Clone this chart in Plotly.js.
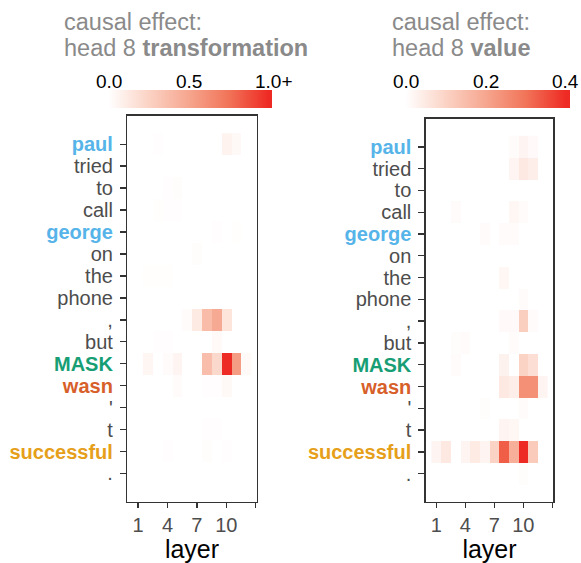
<!DOCTYPE html>
<html>
<head>
<meta charset="utf-8">
<script src="https://cdn.plot.ly/plotly-3.0.1.min.js"></script>
<style>html,body{margin:0;padding:0;background:#fff;}#chart{width:581px;height:563px;}</style>
</head>
<body>
<div id="chart"></div>
<script>
// ---------- data ----------
const tokens = ['paul','tried','to','call','george','on','the','phone',',','but','MASK','wasn',"'",'t','successful','.'];
const tokenColors = {paul:'#56B4E9', george:'#56B4E9', MASK:'#179E74', wasn:'#D7602A', successful:'#E69F1A'};
const layers = [1,2,3,4,5,6,7,8,9,10,11,12];
const layerTickVals = [1,4,7,10,13];
const layerTickText = ['1','4','7','10',''];

// causal effect: head 8 transformation (rows = tokens, cols = layers 1..12)
const transformation = [
  [0,0,0.01,0,0,0,0,0,0,0.07,0.04,0],
  [0,0,0,0,0,0,0,0,0,0,0,0],
  [0,0,0,0.01,0.015,0,0,0,0,0,0,0],
  [0,0,0.008,0.01,0.01,0,0,0,0,0,0,0],
  [0,0,0,0,0,0,0,0,0.01,0,0.008,0],
  [0,0,0,0,0,0,0.015,0,0,0,0,0],
  [0,0.008,0.008,0.008,0,0,0,0,0,0,0,0],
  [0,0,0,0,0,0,0,0,0,0,0,0],
  [0,0,0,0,0,0.02,0.12,0.38,0.48,0.15,0,0],
  [0,0,0.01,0.01,0,0,0,0,0.03,0,0,0],
  [0,0.05,0,0.02,0.06,0,0,0.37,0.22,1.1,0.55,0.03],
  [0,0,0,0,0.02,0,0,0.01,0.01,0.04,0,0],
  [0,0,0,0,0,0,0,0,0,0,0,0],
  [0,0,0,0,0,0,0,0.01,0.01,0,0,0],
  [0,0,0,0.01,0,0,0,0.015,0,0.01,0,0],
  [0,0,0,0,0,0,0,0,0,0,0,0]
];
// causal effect: head 8 value
const value = [
  [0,0,0,0,0,0,0,0,0.008,0.023,0.011,0],
  [0,0,0,0,0,0,0,0,0.023,0.05,0.038,0],
  [0,0,0,0,0,0,0,0,0,0,0,0],
  [0,0,0.008,0,0,0,0,0,0.019,0.008,0,0],
  [0,0,0,0,0,0.008,0,0.008,0.008,0,0,0],
  [0,0,0,0,0,0,0,0,0,0,0,0],
  [0,0,0,0,0,0,0,0.019,0,0,0,0],
  [0,0,0,0,0,0,0,0,0,0.008,0,0],
  [0,0,0,0,0,0,0,0.011,0.011,0.11,0.008,0],
  [0,0,0.006,0.009,0,0,0,0,0.008,0,0,0],
  [0,0,0.008,0,0,0,0,0.03,0,0.1,0.075,0],
  [0,0,0,0,0,0,0,0.05,0.038,0.245,0.245,0.023],
  [0,0,0,0,0,0.006,0,0,0,0.008,0,0],
  [0,0,0,0,0,0,0,0.023,0.019,0,0,0],
  [0.023,0.05,0,0.023,0.046,0.023,0.1,0.33,0.18,0.4,0.12,0],
  [0,0,0,0,0,0,0,0,0,0.006,0,0]
];
const cbLeftTicks = [0,0.5,1.0];
const cbLeftText = ['0.0','0.5','1.0+'];
const cbRightTicks = [0,0.2,0.4];
const cbRightText = ['0.0','0.2','0.4'];

// ---------- styling ----------
const W = 581, H = 563;
const px = v => v / W;
const py = v => 1 - v / H;
const FONT = 'Liberation Sans, Arial, Helvetica, sans-serif';

function scale(stops, zmin, zmax) {
  return stops.map(s => [(s[0] - zmin) / (zmax - zmin), s[1]]);
}
const L = {zmin: -0.065, zmax: 1.021, max: 1.0};
const R = {zmin: -0.027, zmax: 0.41, max: 0.4};
function ramp(z) {
  const m = z.max;
  return scale([[z.zmin,'#ffffff'],[0,'#ffffff'],[0.25*m,'#fbd3c5'],[0.5*m,'#f6a68f'],[0.75*m,'#f17458'],[m,'#ee2a24'],[z.zmax,'#ee2a24']], z.zmin, z.zmax);
}

const cbLeft = {x0: 98.3, len: 174.4};
const cbRight = {x0: 395, len: 175};
const cbTop = 90, cbBottom = 107.7;

const tickText = tokens.map(t => tokenColors[t] ? `<b><span style="color:${tokenColors[t]}">${t}</span></b>` : t);
const tokenIdx = tokens.map((t, i) => i + 1);

function cb(c) {
  return {orientation:'h', x: px(c.x0), xanchor:'left', y: py(cbBottom), yanchor:'bottom',
          len: c.len, lenmode:'pixels', thickness: cbBottom - cbTop, thicknessmode:'pixels',
          outlinewidth:0, ticks:'', showticklabels:false, xpad:0, ypad:0};
}

const traces = [
  {type:'heatmap', x: layers, y: tokenIdx, z: transformation, xaxis:'x', yaxis:'y',
   zmin: L.zmin, zmax: L.zmax, colorscale: ramp(L), showscale: true, colorbar: cb(cbLeft), hoverinfo:'skip'},
  {type:'heatmap', x: layers, y: tokenIdx, z: value, xaxis:'x2', yaxis:'y2',
   zmin: R.zmin, zmax: R.zmax, colorscale: ramp(R), showscale: true, colorbar: cb(cbRight), hoverinfo:'skip'}
];

function xax(d0, d1, anchor) {
  return {domain:[px(d0), px(d1)], anchor: anchor, range:[-0.1, 13.1], tickmode:'array',
          tickvals: layerTickVals, ticktext: layerTickText, ticks:'outside', ticklen:5, tickwidth:1.4,
          tickcolor:'#333', showline:true, mirror:true, linecolor:'#333', linewidth:1.4,
          showgrid:false, zeroline:false, tickfont:{family:FONT, size:20, color:'#4d4d4d'},
          title:{text:'layer', font:{family:FONT, size:25, color:'#000'}, standoff:6}, automargin:false, fixedrange:true};
}
function yax(top, bottom, anchor) {
  return {domain:[py(bottom), py(top)], anchor: anchor, range:[17.3, -0.3], tickmode:'array',
          tickvals: tokenIdx, ticktext: tickText, ticks:'outside', ticklen:6, tickwidth:1.4,
          tickcolor:'#333', showline:true, mirror:true, linecolor:'#333', linewidth:1.4,
          showgrid:false, zeroline:false, tickfont:{family:FONT, size:20, color:'#4d4d4d'},
          ticklabelstandoff:3, automargin:false, fixedrange:true};
}

const annotations = [];
function titleLine(x, yMid, text) {
  annotations.push({xref:'paper', yref:'paper', x: px(x), y: py(yMid), xanchor:'left', yanchor:'middle',
    text: text, showarrow:false, align:'left', font:{family:FONT, size:23.5, color:'#8a8a8a'}});
}
titleLine(62, 21.5, 'causal effect:');
titleLine(62, 48.3, 'head 8 <b>transformation</b>');
titleLine(389.5, 21.5, 'causal effect:');
titleLine(389.5, 48.3, 'head 8 <b>value</b>');
function cbLabels(c, ticks, text, zr) {
  ticks.forEach((v, i) => {
    const xpix = c.x0 + (v - zr.zmin) / (zr.zmax - zr.zmin) * c.len;
    annotations.push({xref:'paper', yref:'paper', x: px(xpix), y: py(81), xanchor:'center', yanchor:'middle',
      xshift: text[i].endsWith('+') ? 5 : 0,
      text: text[i], showarrow:false, font:{family:FONT, size:19, color:'#000'}});
  });
}
cbLabels(cbLeft, cbLeftTicks, cbLeftText, L);
cbLabels(cbRight, cbRightTicks, cbRightText, R);

const layout = {
  width: W, height: H, margin:{l:0, r:0, t:0, b:0}, paper_bgcolor:'#fff', plot_bgcolor:'#fff',
  showlegend:false, font:{family:FONT},
  xaxis: xax(127.3, 256.7, 'y'),
  yaxis: yax(115.7, 502, 'x'),
  xaxis2: xax(425.7, 553.3, 'y2'),
  yaxis2: yax(118.5, 502, 'x2'),
  annotations: annotations
};
Plotly.newPlot('chart', traces, layout, {staticPlot:true, displayModeBar:false});
</script>
</body>
</html>
